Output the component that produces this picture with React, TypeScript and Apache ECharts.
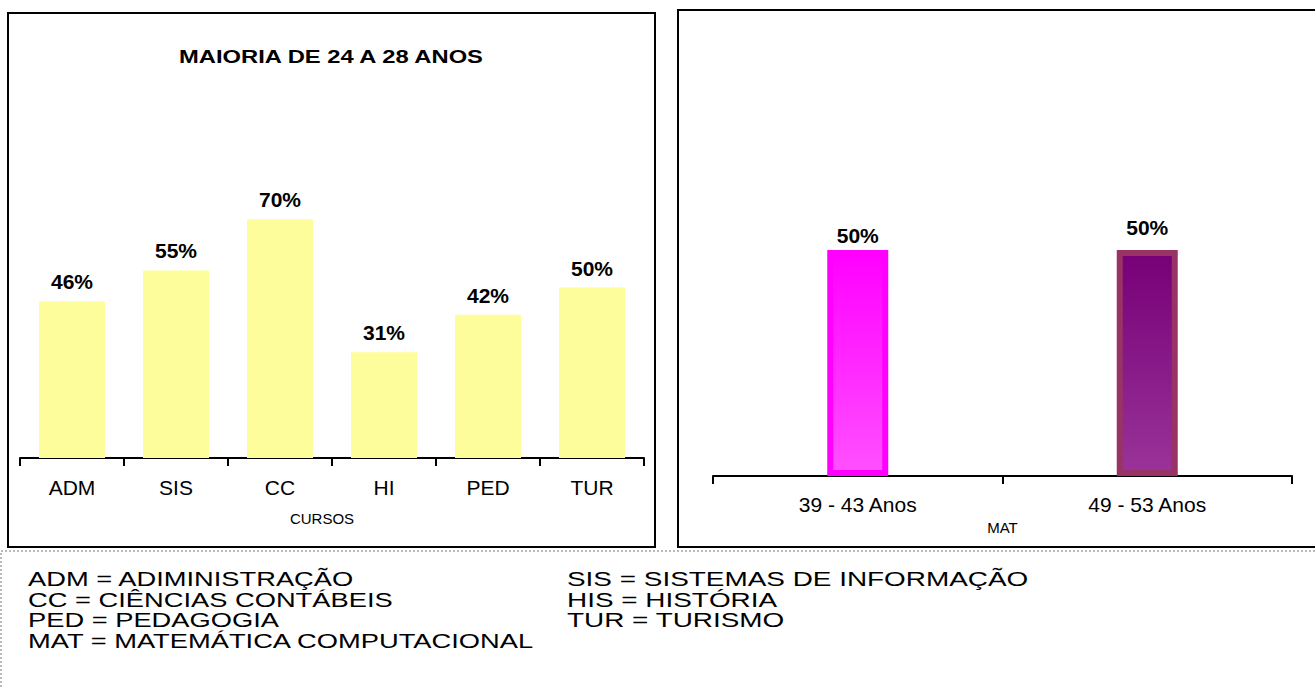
import React, { useEffect, useRef } from "react";
import * as echarts from "echarts";

const cursosCategorias = ["ADM", "SIS", "CC", "HI", "PED", "TUR"];
const cursosValores = [46, 55, 70, 31, 42, 50];
const matCategorias = ["39 - 43 Anos", "49 - 53 Anos"];
const matValores = [50, 50];
const tituloCursos = "MAIORIA DE 24 A 28 ANOS";
const legendaEsquerda = [
  "ADM = ADIMINISTRAÇÃO",
  "CC = CIÊNCIAS CONTÁBEIS",
  "PED = PEDAGOGIA",
  "MAT = MATEMÁTICA COMPUTACIONAL",
];
const legendaDireita = [
  "SIS = SISTEMAS DE INFORMAÇÃO",
  "HIS = HISTÓRIA",
  "TUR = TURISMO",
];

const FONT = "'Liberation Sans', Arial, sans-serif";

export default function App() {
  const ref = useRef<HTMLDivElement>(null);
  useEffect(() => {
    if (!ref.current) return;
    const chart = echarts.init(ref.current, null, { renderer: "svg" });
    const axisCommon = {
      type: "category" as const,
      axisLine: { lineStyle: { color: "#000", width: 2 } },
      axisTick: { show: true, length: 8, lineStyle: { color: "#000", width: 2 } },
      nameLocation: "middle" as const,
    };
    const lineY = [579, 600, 620, 641];
    const graphics: any[] = [
      {
        type: "rect",
        shape: { x: 8, y: 13, width: 647, height: 534 },
        style: { fill: "none", stroke: "#000", lineWidth: 2 },
        z: 10,
      },
      {
        type: "rect",
        shape: { x: 678, y: 10, width: 700, height: 537 },
        style: { fill: "none", stroke: "#000", lineWidth: 2 },
        z: 10,
      },
      {
        type: "rect",
        shape: { x: 1, y: 551, width: 1400, height: 200 },
        style: { fill: "none", stroke: "#777", lineWidth: 1, lineDash: [2, 2] },
        z: 10,
      },
      {
        type: "text",
        x: 331,
        y: 57,
        scaleX: 1.25,
        style: {
          text: tituloCursos,
          fill: "#000",
          font: `bold 19px ${FONT}`,
          textAlign: "center",
          textVerticalAlign: "middle",
        },
      },
    ];
    legendaEsquerda.forEach((t, i) =>
      graphics.push({
        type: "text",
        x: 28,
        y: lineY[i],
        scaleX: 1.3,
        style: { text: t, fill: "#000", font: `21px ${FONT}`, textVerticalAlign: "middle" },
      })
    );
    legendaDireita.forEach((t, i) =>
      graphics.push({
        type: "text",
        x: 567,
        y: lineY[i],
        scaleX: 1.33,
        style: { text: t, fill: "#000", font: `21px ${FONT}`, textVerticalAlign: "middle" },
      })
    );

    const labelStyle = {
      show: true,
      position: "top" as const,
      formatter: "{c}%",
      color: "#000",
      fontWeight: "bold" as const,
      fontSize: 21,
      fontFamily: FONT,
    };

    chart.setOption({
      animation: false,
      grid: [
        { left: 20, top: 117, width: 624, height: 341 },
        { left: 713, top: 24, width: 579, height: 452 },
      ],
      xAxis: [
        {
          ...axisCommon,
          gridIndex: 0,
          data: cursosCategorias,
          name: "CURSOS",
          nameGap: 53,
          nameTextStyle: { color: "#000", fontSize: 15, fontFamily: FONT, padding: [0, 20, 0, 0] },
          axisLabel: { color: "#000", fontSize: 21, fontFamily: FONT, margin: 19 },
        },
        {
          ...axisCommon,
          gridIndex: 1,
          data: matCategorias,
          name: "MAT",
          nameGap: 42,
          nameTextStyle: { color: "#000", fontSize: 15, fontFamily: FONT },
          axisLabel: { color: "#000", fontSize: 21, fontFamily: FONT, margin: 18 },
        },
      ],
      yAxis: [
        { type: "value", gridIndex: 0, min: 0, max: 100, show: false },
        { type: "value", gridIndex: 1, min: 0, max: 100, show: false },
      ],
      graphic: graphics,
      series: [
        {
          type: "bar",
          xAxisIndex: 0,
          yAxisIndex: 0,
          barWidth: 66,
          data: cursosValores,
          itemStyle: { color: "#FEFD9B" },
          label: { ...labelStyle, distance: 9 },
        },
        {
          type: "bar",
          xAxisIndex: 1,
          yAxisIndex: 1,
          barWidth: 61,
          data: [
            {
              value: matValores[0],
              itemStyle: {
                color: new echarts.graphic.LinearGradient(0, 0, 0, 1, [
                  { offset: 0, color: "#FF00FF" },
                  { offset: 1, color: "#FF50FF" },
                ]),
                borderColor: "#FF00FF",
                borderWidth: 6,
              },
              label: { ...labelStyle, distance: 4 },
            },
            {
              value: matValores[1],
              itemStyle: {
                color: new echarts.graphic.LinearGradient(0, 0, 0, 1, [
                  { offset: 0, color: "#770077" },
                  { offset: 1, color: "#993399" },
                ]),
                borderColor: "#993366",
                borderWidth: 6,
              },
              label: { ...labelStyle, distance: 12 },
            },
          ],
        },
      ],
    });
    return () => chart.dispose();
  }, []);
  return (
    <div
      ref={ref}
      style={{ position: "fixed", left: 0, top: 0, width: 1315, height: 687, background: "#fff" }}
    />
  );
}
